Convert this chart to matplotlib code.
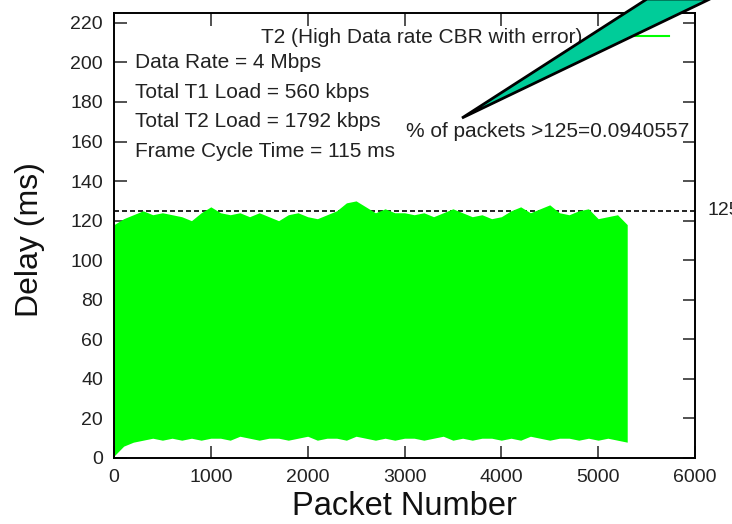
import matplotlib.pyplot as plt
from matplotlib.lines import Line2D
from matplotlib.patches import Polygon

plt.rcParams['font.family'] = ['Liberation Sans', 'DejaVu Sans']

packet = list(range(0, 5400, 100))
delay_top = [118, 121, 123, 125, 123, 124, 123, 122, 120, 124,
             127, 124, 123, 124, 122, 124, 122, 120, 123, 124,
             122, 121, 123, 125, 129, 130, 127, 124, 126, 124,
             124, 123, 124, 122, 124, 126, 124, 122, 123, 121,
             122, 125, 127, 124, 126, 128, 124, 123, 125, 126,
             121, 122, 123, 118]
delay_bot = [1, 6, 8, 9, 10, 9, 10, 9, 10, 9,
             10, 10, 9, 11, 10, 9, 10, 10, 9, 10,
             11, 9, 10, 10, 9, 11, 10, 9, 10, 9,
             10, 10, 9, 10, 11, 9, 10, 9, 10, 10,
             9, 10, 9, 11, 10, 9, 10, 10, 9, 10,
             9, 10, 9, 8]

threshold = 125
notes = ["Data Rate = 4 Mbps", "Total T1 Load = 560 kbps",
         "Total T2 Load = 1792 kbps", "Frame Cycle Time = 115 ms"]
note_y = [200, 185, 170, 155]
pct_label = "% of packets >125=0.0940557"
series_name = "T2 (High Data rate CBR with error)"

# callout wedge, figure pixels (x, y from top)
wedge_px = [(462, 118), (647, -1), (710, -1)]

W, H = 732, 524
fig = plt.figure(figsize=(W / 100, H / 100), dpi=100)
ax = fig.add_axes([114 / W, 1 - 458 / H, 581 / W, 445 / H])

ax.axhline(threshold, color='black', lw=1.2, ls=(0, (3, 1.8)), zorder=1)
ax.fill_between(packet, delay_bot, delay_top, color='#00ff00', lw=0, zorder=2)

ax.set_xlim(0, 6000)
ax.set_ylim(0, 225)
ax.set_xticks(range(0, 6001, 1000))
ax.set_yticks(range(0, 221, 20))
ax.tick_params(direction='in', length=9, width=1.1, top=True, right=True,
               labelsize=14, pad=8, colors='#222222')
for s in ax.spines.values():
    s.set_linewidth(1.4)

ax.set_xlabel("Packet Number", fontsize=23.5, color='#111111')
ax.xaxis.set_label_coords(0.5, -0.074)
ax.set_ylabel("Delay (ms)", fontsize=23, color='#111111')
ax.yaxis.set_label_coords(-0.118, 0.49)

for t, y in zip(notes, note_y):
    ax.text(220, y, t, fontsize=15, va='center', color='#222222')
ax.text(3016, 165, pct_label, fontsize=15, va='center', color='#222222')
ax.text(1.022, threshold, str(threshold), transform=ax.get_yaxis_transform(),
        fontsize=14, va='center', ha='left', color='#222222', clip_on=False)

handle = Line2D([], [], color='#00ff00', lw=1.5)
ax.legend([handle], [series_name], loc='upper right', bbox_to_anchor=(0.955, 0.966),
          frameon=False, fontsize=15, markerfirst=False, handlelength=1.75,
          handletextpad=2.4, borderpad=0, borderaxespad=0, labelcolor='#222222')

wedge = Polygon([(x / W, 1 - y / H) for x, y in wedge_px], closed=True,
                transform=fig.transFigure, facecolor='#00cc99', edgecolor='black',
                lw=2, clip_on=False, zorder=10)
fig.patches.append(wedge)

fig.savefig('out.png', dpi=100)
